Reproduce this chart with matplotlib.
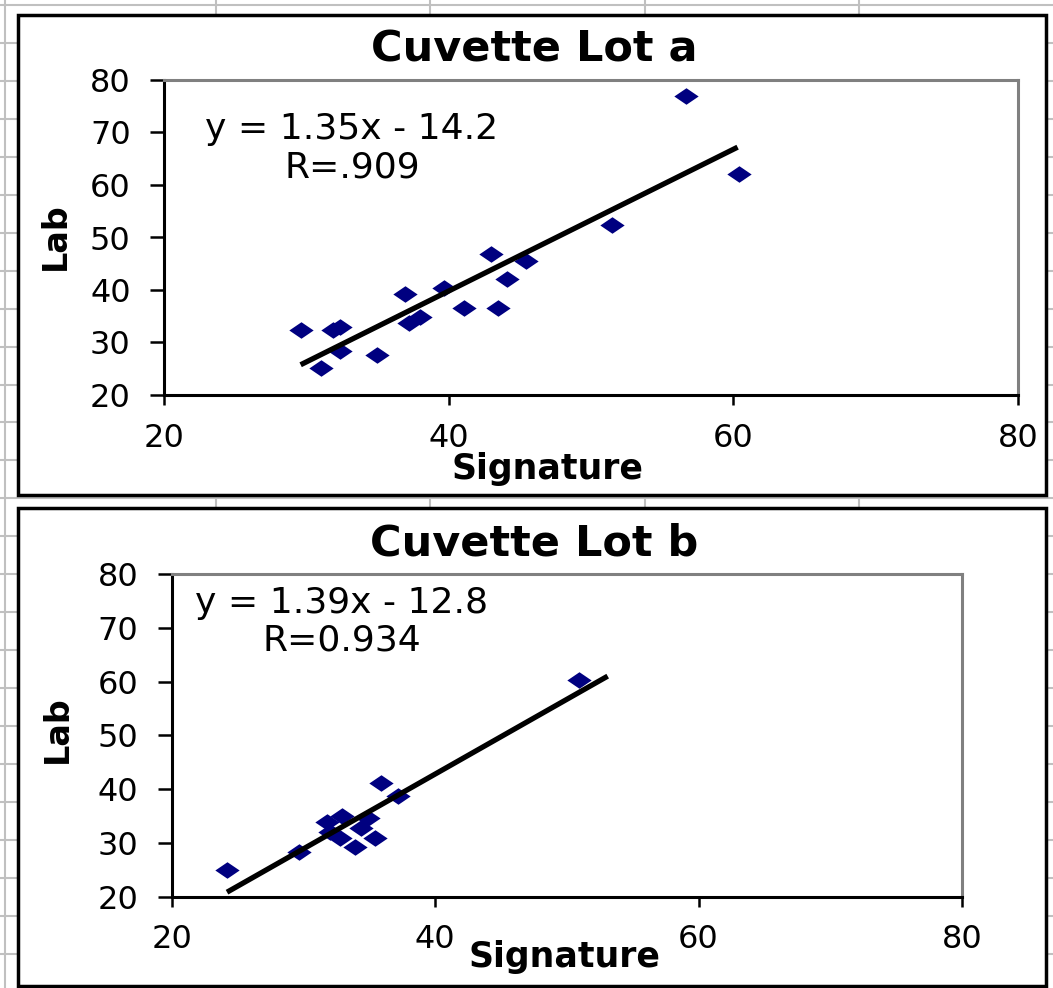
import matplotlib
matplotlib.use("Agg")
import matplotlib.pyplot as plt
from matplotlib.lines import Line2D
from matplotlib.patches import Rectangle
from matplotlib.path import Path
import numpy as np


# Signature vs lab readings, cuvette lot a
sig_a = [29.6, 31.0, 31.9, 32.4, 32.4, 35.0, 36.9, 37.2, 38.0, 39.7,
         41.1, 43.0, 44.1, 43.5, 45.4, 51.5, 56.7, 60.4]
lab_a = [32.3, 25.1, 32.4, 33.0, 28.4, 27.6, 39.2, 33.7, 34.9, 40.4,
         36.5, 46.8, 42.1, 36.5, 45.5, 52.3, 77.0, 62.1]
slope_a, icpt_a, r_a = 1.35, -14.2, "R=.909"
fit_x_a = [29.6, 60.3]

# Signature vs lab readings, cuvette lot b
sig_b = [24.2, 29.7, 31.8, 32.9, 34.9, 34.35, 32.8, 32.05, 33.95, 35.4,
         35.9, 37.2, 50.9]
lab_b = [25.0, 28.3, 33.8, 35.0, 34.6, 32.7, 30.9, 32.1, 29.2, 30.9,
         41.2, 38.7, 60.3]
slope_b, icpt_b, r_b = 1.39, -12.8, "R=0.934"
fit_x_b = [24.2, 53.1]

titles = ["Cuvette Lot a", "Cuvette Lot b"]
x_ticks = [20, 40, 60, 80]
y_ticks = [20, 30, 40, 50, 60, 70, 80]

W, H = 1053, 988
fig = plt.figure(figsize=(W / 100, H / 100), dpi=100)
fig.patch.set_facecolor("white")


def fx(px):
    return px / W


def fy(py):
    return 1 - py / H


# spreadsheet cell grid behind the chart objects
for gx in [5, 216, 430, 645, 859]:
    fig.add_artist(Line2D([fx(gx), fx(gx)], [0, 1], color="#c0c0c0", lw=1.5, zorder=0))
for gy in np.arange(5, H, 37.95):
    fig.add_artist(Line2D([0, 1], [fy(gy), fy(gy)], color="#c0c0c0", lw=1.5, zorder=0))

# chart frames
for top, bottom in [(15, 495), (508, 986)]:
    fig.add_artist(Rectangle((fx(18), fy(bottom)), fx(1046) - fx(18), fy(top) - fy(bottom),
                             facecolor="white", edgecolor="black", lw=2.5, zorder=1))

diamond = Path([(-1, 0), (0, 0.68), (1, 0), (0, -0.68), (-1, 0)],
               [Path.MOVETO, Path.LINETO, Path.LINETO, Path.LINETO, Path.CLOSEPOLY])

panels = [
    dict(rect=(164, 80, 1018, 395), x=sig_a, y=lab_a, m=slope_a, b=icpt_a, r=r_a,
         fit=fit_x_a, title_y=62, lab=(55, 236.5), sig_x=547, sig_y=479,
         eq=(352, 139, 177)),
    dict(rect=(171.7, 574, 962, 896.7), x=sig_b, y=lab_b, m=slope_b, b=icpt_b, r=r_b,
         fit=fit_x_b, title_y=555, lab=(57, 729), sig_x=564, sig_y=967,
         eq=(342, 613, 650)),
]

for p, title in zip(panels, titles):
    l, t, r, btm = p["rect"]
    ax = fig.add_axes([fx(l), fy(btm), fx(r) - fx(l), fy(t) - fy(btm)], zorder=2)
    ax.set_facecolor("white")

    ax.scatter(p["x"], p["y"], marker=diamond, s=17.5 ** 2, color="#000080",
               linewidths=0, zorder=3)
    fx_line = np.array(p["fit"])
    ax.plot(fx_line, p["m"] * fx_line + p["b"], color="black", lw=3.8,
            solid_capstyle="butt", zorder=4)

    ax.set_xlim(20, 80)
    ax.set_ylim(20, 80)
    ax.set_xticks(x_ticks)
    ax.set_yticks(y_ticks)
    ax.tick_params(axis="y", direction="out", length=10, width=1.8, pad=14,
                   labelsize=23, color="black")
    ax.tick_params(axis="x", direction="out", length=7, width=1.8, pad=13,
                   labelsize=23, color="black")
    for side in ["left", "bottom"]:
        ax.spines[side].set_color("black")
        ax.spines[side].set_linewidth(2.2)
    for side in ["top", "right"]:
        ax.spines[side].set_color("#808080")
        ax.spines[side].set_linewidth(2.2)

    # regression equation and correlation
    ex, ey1, ey2 = p["eq"]
    sign = "-" if p["b"] < 0 else "+"
    fig.text(fx(ex), fy(ey1), f"y = {p['m']:.2f}x {sign} {abs(p['b']):.1f}",
             ha="center", va="baseline", fontsize=26, zorder=5)
    fig.text(fx(ex), fy(ey2), p["r"], ha="center", va="baseline", fontsize=26, zorder=5)

    fig.text(fx(534), fy(p["title_y"]), title, ha="center", va="baseline",
             fontsize=31, fontweight="bold", zorder=5)
    fig.text(fx(p["sig_x"]), fy(p["sig_y"]), "Signature", ha="center", va="baseline",
             fontsize=25, fontweight="bold", zorder=5)
    fig.text(fx(p["lab"][0]), fy(p["lab"][1]), "Lab", rotation=90, ha="center",
             va="center", fontsize=24, fontweight="bold", zorder=5)

fig.savefig("out.png", dpi=100, facecolor="white")
